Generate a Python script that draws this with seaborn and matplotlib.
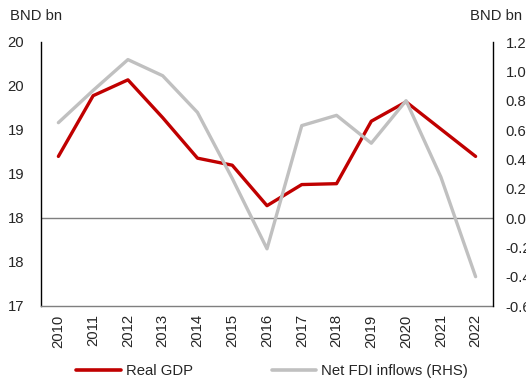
import matplotlib
matplotlib.use("Agg")
import matplotlib.pyplot as plt
import seaborn as sns
import pandas as pd
from matplotlib.lines import Line2D

sns.set_style("white")
plt.rcParams["font.family"] = ["Liberation Sans", "DejaVu Sans"]

years = ["2010", "2011", "2012", "2013", "2014", "2015", "2016",
         "2017", "2018", "2019", "2020", "2021", "2022"]
real_gdp = [18.70, 19.39, 19.57, 19.14, 18.68, 18.60, 18.14,
            18.38, 18.39, 19.10, 19.32, 19.01, 18.70]
net_fdi = [0.65, 0.87, 1.08, 0.97, 0.72, 0.27, -0.21,
           0.63, 0.70, 0.51, 0.80, 0.28, -0.40]

left_ticks = [17.0, 17.5, 18.0, 18.5, 19.0, 19.5, 20.0]
left_labels = ["17", "18", "18", "19", "19", "20", "20"]
right_ticks = [-0.6, -0.4, -0.2, 0.0, 0.2, 0.4, 0.6, 0.8, 1.0, 1.2]

df = pd.DataFrame({"year": years, "gdp": real_gdp, "fdi": net_fdi})
df["x"] = range(len(years))

red = "#C00000"
grey = "#C0C0C0"
fs = 10.7

fig = plt.figure(figsize=(5.26, 3.83), dpi=100)
ax = fig.add_axes([41 / 526, 1 - 306 / 383, 452 / 526, 264 / 383])
ax2 = ax.twinx()

sns.lineplot(data=df, x="x", y="gdp", ax=ax, color=red, linewidth=2.4)
sns.lineplot(data=df, x="x", y="fdi", ax=ax2, color=grey, linewidth=2.4)

ax.axhline(18.0, color="#7f7f7f", linewidth=1.0, zorder=1)

ax.set_xlim(-0.5, len(years) - 0.5)
ax.set_ylim(17.0, 20.0)
ax2.set_ylim(-0.6, 1.2)

ax.set_xticks(df["x"])
ax.set_xticklabels(years, rotation=90, fontsize=fs)
ax.set_yticks(left_ticks)
ax.set_yticklabels(left_labels, fontsize=fs)
ax2.set_yticks(right_ticks)
ax2.set_yticklabels([f"{v:.1f}" for v in right_ticks], fontsize=fs)

for a in (ax, ax2):
    a.set_xlabel("")
    a.set_ylabel("")
    a.tick_params(axis="both", length=0)
    a.spines["top"].set_visible(False)
ax.tick_params(axis="y", pad=12)
ax.tick_params(axis="x", pad=6)
ax2.tick_params(axis="y", pad=9)

ax.spines["left"].set_color("black")
ax.spines["right"].set_visible(False)
ax.spines["bottom"].set_color("#7f7f7f")
ax2.spines["left"].set_visible(False)
ax2.spines["bottom"].set_visible(False)
ax2.spines["right"].set_color("black")
for s in ("left", "bottom"):
    ax.spines[s].set_linewidth(1.0)
ax2.spines["right"].set_linewidth(1.0)

fig.text(10 / 526, 1 - 16 / 383, "BND bn", fontsize=fs, va="center", ha="left")
fig.text(470 / 526, 1 - 16 / 383, "BND bn", fontsize=fs, va="center", ha="left")

handles = [Line2D([], [], color=red, linewidth=2.6),
           Line2D([], [], color=grey, linewidth=2.6)]
fig.legend(handles, ["Real GDP", "Net FDI inflows (RHS)"],
           loc="center", bbox_to_anchor=(272 / 526, 1 - 371 / 383), ncol=2,
           frameon=False, fontsize=fs, handlelength=3.0, handletextpad=0.35,
           columnspacing=5.3)

fig.savefig("out.png", dpi=100)
